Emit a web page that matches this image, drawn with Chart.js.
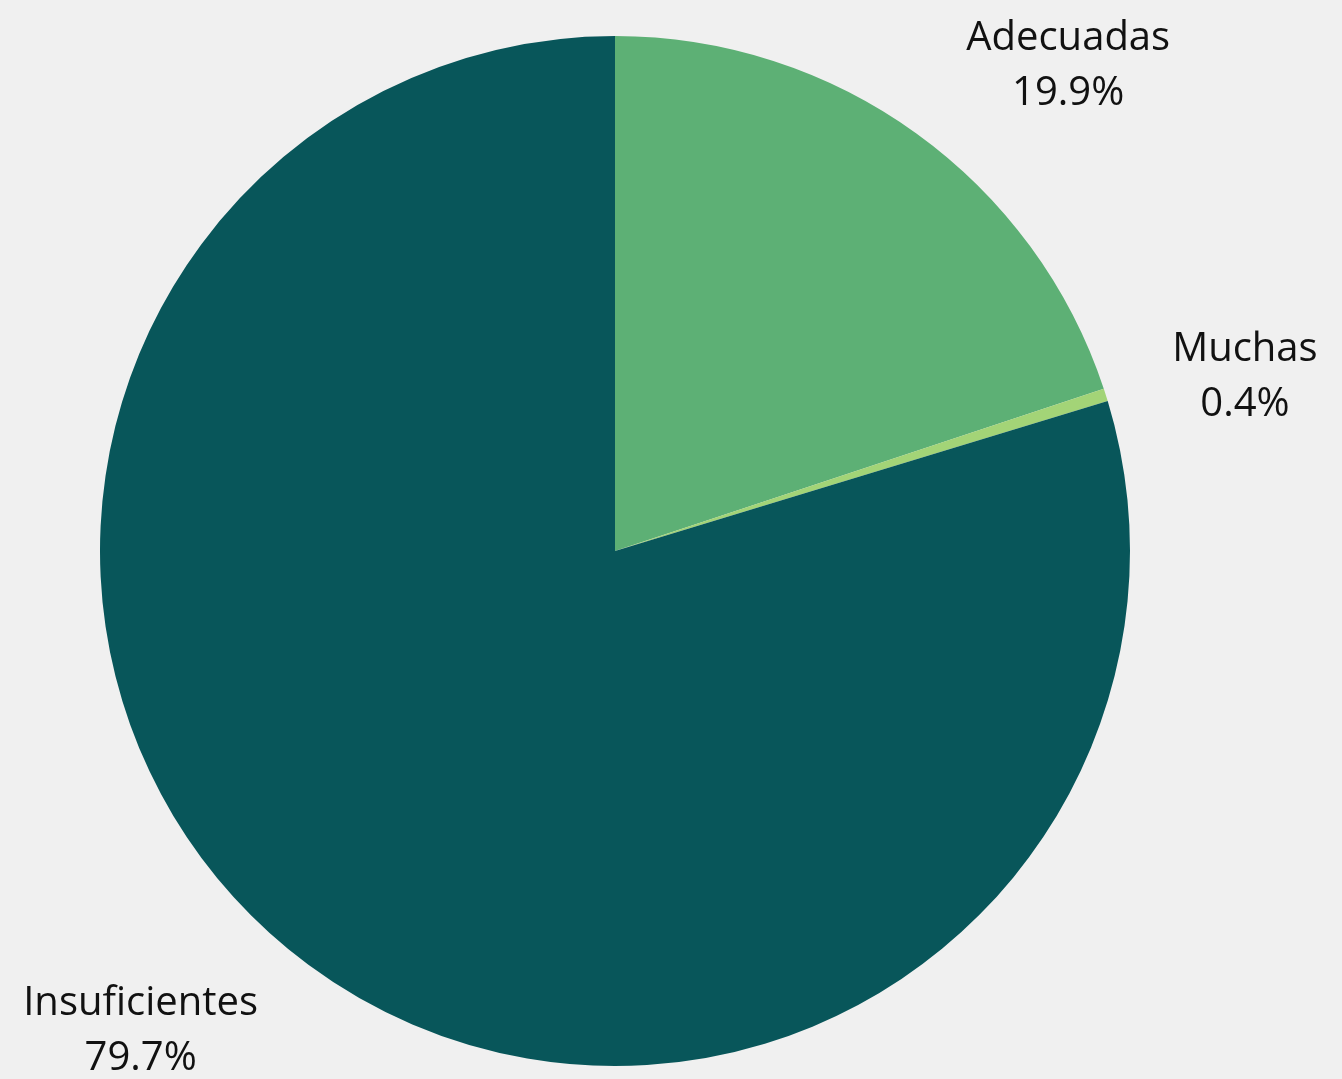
<!DOCTYPE html>
<html>
<head>
<meta charset="utf-8">
<script src="https://cdn.jsdelivr.net/npm/chart.js@4"></script>
<style>
  html, body { margin: 0; padding: 0; background: #f0f0f0; }
  #wrap { width: 1342px; height: 1079px; }
</style>
</head>
<body>
<div id="wrap"><canvas id="pieChart" width="1342" height="1079"></canvas></div>
<script>
// Data
const categories = ['Adecuadas', 'Muchas', 'Insuficientes'];
const shares = [19.9, 0.4, 79.7];
const sliceColors = ['#5db075', '#a3d477', '#08565a'];

// Outside labels: name on first line, percentage below
const outsideLabels = {
  id: 'outsideLabels',
  afterDatasetsDraw(chart) {
    const ctx = chart.ctx;
    const meta = chart.getDatasetMeta(0);
    const lineH = 55;
    const gap = 45;
    ctx.save();
    ctx.font = '40px "Open Sans", "Noto Sans", sans-serif';
    ctx.fillStyle = '#111';
    ctx.textAlign = 'center';
    ctx.textBaseline = 'middle';
    meta.data.forEach((arc, i) => {
      const p = arc.getProps(['x', 'y', 'startAngle', 'endAngle', 'outerRadius'], true);
      const mid = (p.startAngle + p.endAngle) / 2;
      const lines = [categories[i], shares[i].toFixed(1) + '%'];
      const w = Math.max(...lines.map(l => ctx.measureText(l).width));
      const h = 94;
      const mx = p.outerRadius * Math.cos(mid);
      const my = p.outerRadius * Math.sin(mid);
      let dx = w / 2, dy = h / 2;
      if (mx < 0) dx = -dx;
      if (my < 0) dy = -dy;
      const ox = dx + Math.abs(dy) * Math.sign(dx) / 2;
      const oy = dy / (1 + (mx * mx) / (my * my));
      const cx = p.x + mx + gap * Math.cos(mid) + ox;
      const cy = p.y + my + gap * Math.sin(mid) + oy;
      ctx.fillText(lines[0], cx, cy - lineH / 2);
      ctx.fillText(lines[1], cx, cy + lineH / 2);
    });
    ctx.restore();
  }
};

const ctx = document.getElementById('pieChart').getContext('2d');
new Chart(ctx, {
  type: 'pie',
  data: {
    labels: categories,
    datasets: [{
      data: shares,
      backgroundColor: sliceColors,
      borderWidth: 0,
      hoverOffset: 0
    }]
  },
  options: {
    responsive: false,
    animation: false,
    layout: { padding: { left: 100, right: 212, top: 36, bottom: 13 } },
    plugins: {
      legend: { display: false },
      tooltip: { enabled: false }
    }
  },
  plugins: [outsideLabels]
});
</script>
</body>
</html>
